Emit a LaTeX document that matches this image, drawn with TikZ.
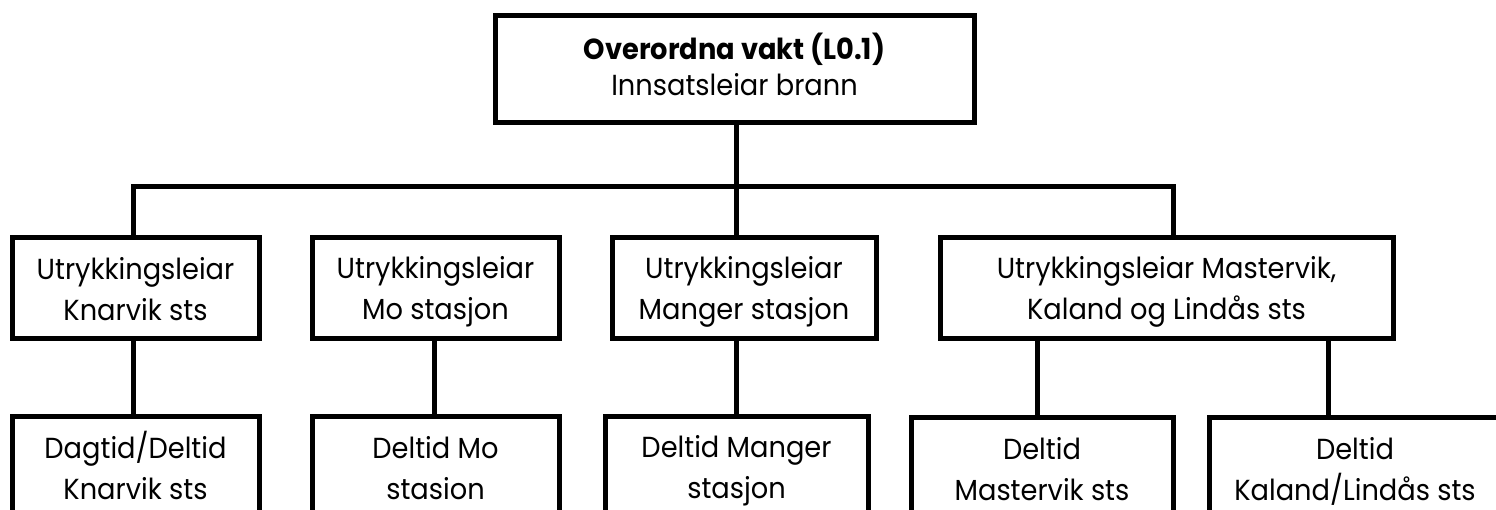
\documentclass[tikz,border=0pt]{standalone}
\usepackage{fontspec}
\setmainfont[FakeStretch=0.94]{Poppins}
\newcommand\lstrut{\rule[-7pt]{0pt}{38pt}}
\newcommand\tstrut{\rule[-9pt]{0pt}{35pt}}
\begin{document}
\begin{tikzpicture}[x=1pt,y=-1pt,
  box/.style={draw=black, line width=5pt, rectangle, align=center, inner sep=0pt,
    minimum height=101pt, font={\fontsize{29}{41}\selectfont}},
  topbox/.style={box, minimum height=107pt, font={\fontsize{29}{36}\selectfont}},
  conn/.style={draw=black, line width=5pt}]
\useasboundingbox (0,0) rectangle (1496,509);
\clip (0,0) rectangle (1496,509);
\fill[white] (0,0) rectangle (1496,509);
% top
\node[topbox, minimum width=479pt] (top) at (734.5,68.5)
  {\tstrut\textbf{Overordna vakt (L0.1)}\\\tstrut Innsatsleiar brann};
% middle
\node[box, minimum width=247pt] (b1) at (135.5,287.5) {\lstrut Utrykkingsleiar\\\lstrut Knarvik sts};
\node[box, minimum width=247pt] (b2) at (435.5,287.5) {\lstrut Utrykkingsleiar\\\lstrut Mo stasjon};
\node[box, minimum width=264pt] (b3) at (744,287.5) {\lstrut Utrykkingsleiar\\\lstrut Manger stasjon};
\node[box, minimum width=453pt] (b4) at (1166.5,287.5) {\lstrut Utrykkingsleiar Mastervik,\\\lstrut Kaland og Lindås sts};
% bottom
\node[box, minimum width=247pt] (c1) at (135.5,466.5) {\lstrut Dagtid/Deltid\\\lstrut Knarvik sts};
\node[box, minimum width=247pt] (c2) at (435.5,466.5) {\lstrut Deltid Mo\\\lstrut stasion};
\node[box, minimum width=263pt] (c3) at (736.5,466.5) {\lstrut Deltid Manger\\\lstrut stasjon};
\node[box, minimum width=262pt] (c4) at (1042,467.5) {\lstrut Deltid\\\lstrut Mastervik sts};
\node[box, minimum width=292pt] (c5) at (1355,467.5) {\lstrut Deltid\\\lstrut Kaland/Lindås sts};
% connectors
\coordinate (barL) at (133,186);
\coordinate (barM) at (736,186);
\coordinate (barR) at (1173,186);
\draw[conn] (top.south -| barM) -- (barM);
\draw[conn, line cap=rect] (b1.north -| barL) -- (barL) -- (barR) -- (b4.north -| barR);
\draw[conn] (barM) -- (b3.north -| barM);
\draw[conn] (b1.south -| barL) -- (c1.north -| barL);
\coordinate (s2) at (434,0);
\draw[conn] (b2.south -| s2) -- (c2.north -| s2);
\draw[conn] (b3.south -| barM) -- (c3.north -| barM);
\coordinate (s4) at (1037,0);
\coordinate (s5) at (1328,0);
\draw[conn] (b4.south -| s4) -- (c4.north -| s4);
\draw[conn] (b4.south -| s5) -- (c5.north -| s5);
\end{tikzpicture}
\end{document}
